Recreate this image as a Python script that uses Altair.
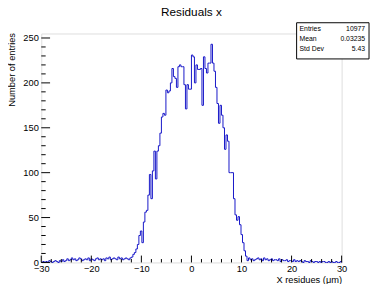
import altair as alt
import pandas as pd

# ---- data ----
BIN_LO = -30.0
BIN_W = 0.3  # 200 bins from -30 to 30

tail_left = [0, 1, 0, 1, 0, 2, 1, 0, 1, 2,
             1, 0, 2, 1, 3, 1, 2, 4, 2, 3,
             5, 3, 4, 2, 3, 5, 4, 2, 3, 4,
             3, 5, 2, 4, 3, 2, 4, 5, 3, 4,
             3, 4, 2, 5, 4, 6, 3, 4, 5, 4,
             3, 6, 4, 5, 3, 4, 5, 4]
core = [3, 5, 6, 9, 11, 15, 20, 30, 35, 22,
        45, 56, 58, 75, 98, 71, 102, 124, 93, 124,
        130, 144, 162, 166, 164, 192, 189, 191, 200, 216,
        207, 205, 195, 218, 220, 218, 218, 198, 171, 198,
        193, 193, 231, 229, 200, 220, 215, 215, 216, 175,
        229, 216, 211, 222, 222, 243, 222, 213, 195, 177,
        155, 175, 164, 150, 126, 142, 135, 100, 100, 100,
        71, 53, 47, 51, 42, 31, 22, 13, 7, 2,
        5, 3, 4, 2, 3]
tail_right = [4, 5, 3, 4, 2, 5, 3, 4, 2, 3,
              4, 2, 3, 3, 2, 4, 1, 3, 2, 2,
              3, 1, 2, 2, 1, 3, 1, 2, 1, 2,
              1, 0, 2, 1, 1, 0, 2, 1, 0, 1,
              1, 0, 1, 0, 1, 1, 0, 0, 1, 0,
              1, 0, 0, 1, 0, 0, 1]
counts = tail_left + core + tail_right

x_major = [-30, -20, -10, 0, 10, 20, 30]
x_minor = [v for v in range(-30, 31, 2) if v % 10 != 0]
y_major = [0, 50, 100, 150, 200, 250]
y_minor = [v for v in range(0, 251, 10) if v % 50 != 0]

stat_names = ["Entries", "Mean", "Std Dev"]
stat_values = ["10977", "0.03235", "5.43"]

TITLE = "Residuals x"
X_TITLE = "X residues (\u03bcm)"
Y_TITLE = "Number of entries"

# ---- build outline table (bin edges) ----
n = len(counts)
xs_pts = [BIN_LO] + [BIN_LO + BIN_W * i for i in range(n)] + [BIN_LO + BIN_W * n, BIN_LO + BIN_W * n]
ys_pts = [0] + counts + [counts[-1], 0]
hist = pd.DataFrame({"x": xs_pts, "y": ys_pts, "o": list(range(len(xs_pts)))})

W, H = 307, 234
FONT = "Liberation Sans"
xs = alt.Scale(domain=[-30, 30], nice=False, zero=False)
ys = alt.Scale(domain=[0, 255], nice=False)

line = alt.Chart(hist).mark_line(interpolate="step-after", color="#1414c8", strokeWidth=1).encode(
    x=alt.X("x:Q", scale=xs, axis=alt.Axis(
        values=x_major, ticks=False, domain=False, grid=False, labelFontSize=9.5, labelFont=FONT,
        labelColor="black", labelPadding=1, title=X_TITLE, titleFont=FONT, titleFontSize=9.5,
        titleFontWeight="normal", titleColor="black", titleX=W, titleY=21, titleAlign="right",
        titleBaseline="alphabetic", labelFlush=False)),
    y=alt.Y("y:Q", scale=ys, axis=alt.Axis(
        values=y_major, ticks=False, domain=False, grid=False, labelFontSize=9.5, labelFont=FONT,
        labelColor="black", labelPadding=3, title=Y_TITLE, titleFont=FONT, titleFontSize=9.5,
        titleFontWeight="normal", titleColor="black", titleX=-27, titleY=-1, titleAlign="right",
        titleBaseline="alphabetic", titleAngle=270, labelFlush=False)),
    order="o:Q",
)

def xticks(vals, length):
    return alt.Chart(pd.DataFrame({"x": vals})).mark_rule(color="black", strokeWidth=1).encode(
        x=alt.X("x:Q", scale=xs), y=alt.value(H), y2=alt.value(H - length))

def yticks(vals, length):
    return alt.Chart(pd.DataFrame({"y": vals})).mark_rule(color="black", strokeWidth=1).encode(
        y=alt.Y("y:Q", scale=ys), x=alt.value(0), x2=alt.value(length))

one = pd.DataFrame({"a": [0]})
box = alt.Chart(one).mark_rect(fill="white", stroke="black", strokeWidth=1).encode(
    x=alt.value(261), x2=alt.value(335), y=alt.value(-11), y2=alt.value(26))

texts = []
for i, (nm, vl) in enumerate(zip(stat_names, stat_values)):
    texts.append(alt.Chart(one).mark_text(align="left", baseline="middle", fontSize=7, font=FONT, color="black").encode(
        x=alt.value(264), y=alt.value(-4.5 + 10 * i), text=alt.value(nm)))
    texts.append(alt.Chart(one).mark_text(align="right", baseline="middle", fontSize=7, font=FONT, color="black").encode(
        x=alt.value(331), y=alt.value(-4.5 + 10 * i), text=alt.value(vl)))

chart = alt.layer(
    line, xticks(x_major, 7), xticks(x_minor, 3.5), yticks(y_major, 9), yticks(y_minor, 4.5), box, *texts
).properties(
    width=W, height=H,
    title=alt.TitleParams(TITLE, font=FONT, fontSize=12, fontWeight="normal", color="black",
                          offset=2, dy=8, frame="group", baseline="alphabetic"),
    autosize=alt.AutoSizeParams(type="none"),
    padding={"left": 34, "top": 23, "right": 29, "bottom": 20},
).configure_view(stroke="black", strokeWidth=1).configure(background="white")

chart.save("out.html", embed_options={"renderer": "svg", "actions": False})
